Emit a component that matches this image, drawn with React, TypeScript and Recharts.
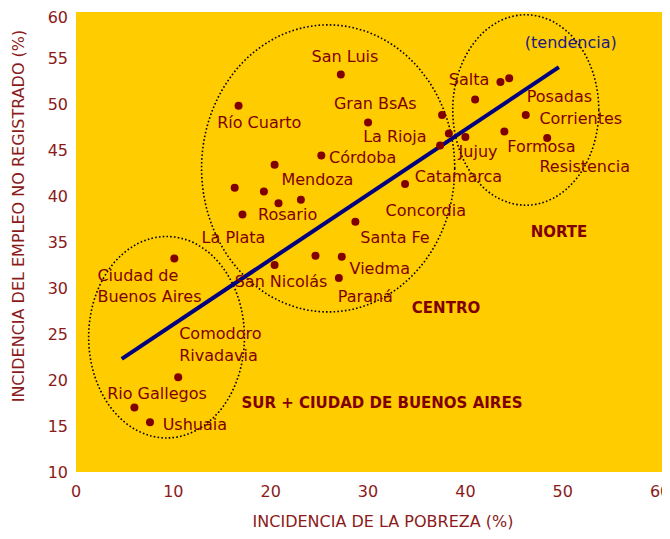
import {
  ScatterChart,
  Scatter,
  XAxis,
  YAxis,
  CartesianGrid,
  ReferenceLine,
  ReferenceArea,
} from "recharts";

const DARK_RED = "#800000";
const FONT = "'DejaVu Sans', sans-serif";

// pobreza (%) vs empleo no registrado (%) by aglomerado
const surPoints = [
  { x: 10.1, y: 33.2 },
  { x: 10.5, y: 20.3 },
  { x: 6.0, y: 17.0 },
  { x: 7.6, y: 15.4 },
];

const centroPoints = [
  { x: 16.7, y: 49.8 },
  { x: 20.4, y: 43.4 },
  { x: 16.3, y: 40.9 },
  { x: 19.3, y: 40.5 },
  { x: 20.8, y: 39.2 },
  { x: 23.1, y: 39.6 },
  { x: 17.1, y: 38.0 },
  { x: 25.2, y: 44.4 },
  { x: 24.6, y: 33.5 },
  { x: 20.4, y: 32.5 },
  { x: 27.2, y: 53.2 },
  { x: 30.0, y: 48.0 },
  { x: 37.6, y: 48.8 },
  { x: 38.3, y: 46.8 },
  { x: 37.4, y: 45.5 },
  { x: 33.8, y: 41.3 },
  { x: 28.7, y: 37.2 },
  { x: 27.3, y: 33.4 },
  { x: 27.0, y: 31.1 },
];

const nortePoints = [
  { x: 40.0, y: 46.4 },
  { x: 41.0, y: 50.5 },
  { x: 43.6, y: 52.4 },
  { x: 44.5, y: 52.8 },
  { x: 46.2, y: 48.8 },
  { x: 44.0, y: 47.0 },
  { x: 48.4, y: 46.3 },
];

const trend = [
  { x: 4.7, y: 22.3 },
  { x: 49.6, y: 54.0 },
];

// region outlines: x1, x2, y1, y2 of bounding box
const regions = [
  { name: "sur", x1: 1.3, x2: 17.3, y1: 13.7, y2: 35.6 },
  { name: "centro", x1: 12.9, x2: 38.9, y1: 27.4, y2: 58.6 },
  { name: "norte", x1: 38.7, x2: 53.7, y1: 39.0, y2: 59.7 },
];

const cityLabels = [
  { text: "San Luis", x: 24.2, y: 55.2 },
  { text: "Gran BsAs", x: 26.5, y: 50.1 },
  { text: "Río Cuarto", x: 14.5, y: 48.0 },
  { text: "La Rioja", x: 29.5, y: 46.5 },
  { text: "Córdoba", x: 26.0, y: 44.2 },
  { text: "Mendoza", x: 21.1, y: 41.8 },
  { text: "Rosario", x: 18.7, y: 38.0 },
  { text: "La Plata", x: 12.9, y: 35.5 },
  { text: "Santa Fe", x: 29.2, y: 35.5 },
  { text: "Concordia", x: 31.8, y: 38.5 },
  { text: "Catamarca", x: 34.8, y: 42.2 },
  { text: "Viedma", x: 28.1, y: 32.2 },
  { text: "San Nicolás", x: 16.3, y: 30.7 },
  { text: "Paraná", x: 26.9, y: 29.1 },
  { text: "Salta", x: 38.3, y: 52.7 },
  { text: "Jujuy", x: 39.3, y: 44.9 },
  { text: "Posadas", x: 46.3, y: 50.8 },
  { text: "Corrientes", x: 47.6, y: 48.4 },
  { text: "Formosa", x: 44.3, y: 45.4 },
  { text: "Resistencia", x: 47.6, y: 43.2 },
  { text: "Ciudad de", x: 2.2, y: 31.4 },
  { text: "Buenos Aires", x: 2.2, y: 29.1 },
  { text: "Comodoro", x: 10.6, y: 25.1 },
  { text: "Rivadavia", x: 10.6, y: 22.7 },
  { text: "Rio Gallegos", x: 3.2, y: 18.6 },
  { text: "Ushuaia", x: 8.9, y: 15.2 },
];

const regionLabels = [
  { text: "CENTRO", x: 34.5, y: 27.9 },
  { text: "NORTE", x: 46.7, y: 36.1 },
  { text: "SUR + CIUDAD DE BUENOS AIRES", x: 17.0, y: 17.5 },
];

const trendLabel = [{ text: "(tendencia)", x: 46.1, y: 56.7 }];

const xTicks = [0, 10, 20, 30, 40, 50, 60];
const yTicks = [10, 15, 20, 25, 30, 35, 40, 45, 50, 55, 60];

const dotShape = (p: any) => <circle cx={p.cx} cy={p.cy} r={4} fill={DARK_RED} />;

const textShape = (color: string, bold: boolean, size: number) => (p: any) => (
  <text
    x={p.cx}
    y={p.cy}
    dy="0.36em"
    fill={color}
    fontFamily={FONT}
    fontSize={size}
    fontWeight={bold ? "bold" : "normal"}
  >
    {p.payload.text}
  </text>
);

const ellipseShape = (p: any) => (
  <ellipse
    cx={p.x + p.width / 2}
    cy={p.y + p.height / 2}
    rx={Math.abs(p.width) / 2}
    ry={Math.abs(p.height) / 2}
    fill="none"
    stroke="#000"
    strokeWidth={1.6}
    strokeDasharray="1.6 2.2"
  />
);

const tickStyle = { fill: "#8b1a1a", fontFamily: FONT, fontSize: 16 };

const App = () => {
  return (
    <ScatterChart width={662} height={523} margin={{ top: 4, right: 6, bottom: 0, left: 0 }}>
      <CartesianGrid fill="#FFCC00" stroke="none" horizontal={false} vertical={false} />
      <XAxis
        type="number"
        dataKey="x"
        domain={[0, 60.4]}
        ticks={xTicks}
        axisLine={false}
        tickLine={false}
        tickMargin={8}
        height={59}
        tick={tickStyle}
        label={{
          content: (props: any) => {
            const vb = props.viewBox;
            return (
              <text
                x={vb.x + vb.width / 2 + 13}
                y={vb.y + 49}
                dy="0.36em"
                textAnchor="middle"
                fill="#8b1a1a"
                fontFamily={FONT}
                fontSize={16}
              >
                INCIDENCIA DE LA POBREZA (%)
              </text>
            );
          },
        }}
      />
      <YAxis
        type="number"
        dataKey="y"
        domain={[10, 60]}
        ticks={yTicks}
        axisLine={false}
        tickLine={false}
        width={68}
        tick={tickStyle}
        label={{
          content: (props: any) => {
            const vb = props.viewBox;
            const cx = vb.x + 10;
            const cy = vb.y + vb.height / 2 - 26;
            return (
              <text
                x={cx}
                y={cy}
                dy="0.36em"
                textAnchor="middle"
                transform={`rotate(-90, ${cx}, ${cy})`}
                fill="#8b1a1a"
                fontFamily={FONT}
                fontSize={16}
              >
                INCIDENCIA DEL EMPLEO NO REGISTRADO (%)
              </text>
            );
          },
        }}
      />
      {regions.map((r) => (
        <ReferenceArea
          key={r.name}
          x1={r.x1}
          x2={r.x2}
          y1={r.y1}
          y2={r.y2}
          shape={ellipseShape}
          ifOverflow="visible"
        />
      ))}
      <ReferenceLine segment={trend} stroke="#000080" strokeWidth={4} ifOverflow="visible" />
      <Scatter data={surPoints} shape={dotShape} isAnimationActive={false} />
      <Scatter data={centroPoints} shape={dotShape} isAnimationActive={false} />
      <Scatter data={nortePoints} shape={dotShape} isAnimationActive={false} />
      <Scatter data={cityLabels} shape={textShape(DARK_RED, false, 16)} isAnimationActive={false} />
      <Scatter data={regionLabels} shape={textShape(DARK_RED, true, 15)} isAnimationActive={false} />
      <Scatter data={trendLabel} shape={textShape("#1a1a80", false, 16)} isAnimationActive={false} />
    </ScatterChart>
  );
};

export default App;
